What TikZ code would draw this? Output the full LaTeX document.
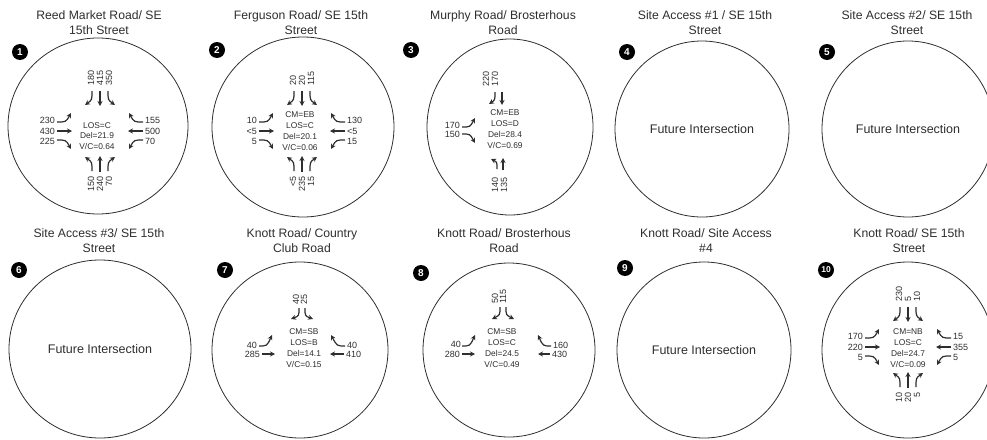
\documentclass[tikz,border=0pt]{standalone}
\usepackage{fontspec}
\setmainfont{Liberation Sans}
\usetikzlibrary{arrows.meta}
\definecolor{ink}{HTML}{2E2E2E}

% the twelve movement arrows of a four-leg intersection (drawn around the scope origin)
\newcommand\fourarrows{%
  \draw[mv] (-8,-40) .. controls (-8,-31) .. (-15,-26);
  \draw[mv] (0,-40) -- (0,-25);
  \draw[mv] (8,-40) .. controls (8,-31) .. (15,-26);
  \draw[mv] (-8,40) .. controls (-8,31) .. (-15,26);
  \draw[mv] (0,41) -- (0,25);
  \draw[mv] (8,40) .. controls (8,31) .. (15,26);
  \draw[mv] (-43,-9) .. controls (-34,-9) .. (-29,-18);
  \draw[mv] (-43,0) -- (-28,0);
  \draw[mv] (-43,9) .. controls (-34,9) .. (-29,18);
  \draw[mv] (43,-9) .. controls (34,-9) .. (29,-18);
  \draw[mv] (43,0) -- (28,0);
  \draw[mv] (43,9) .. controls (34,9) .. (29,18);
}

\begin{document}
\begin{tikzpicture}[x=1pt,y=-1pt,
  ring/.style={draw=ink,line width=0.8pt},
  badge/.style={circle,fill=black,text=white,inner sep=0pt,minimum size=16pt,
    font=\fontsize{10}{10}\selectfont\bfseries},
  ttl/.style={align=center,text=ink,inner sep=0pt,font=\fontsize{12.2}{15}\selectfont},
  future/.style={text=ink,inner sep=0pt,font=\fontsize{12.5}{14}\selectfont},
  info/.style={align=center,text=ink,inner sep=0pt,font=\fontsize{8.4}{10.8}\selectfont},
  vol/.style={text=ink,inner sep=0pt,font=\fontsize{9}{10}\selectfont},
  volr/.style={vol,rotate=90},
  mv/.style={draw=ink,line width=1.2pt,-{Stealth[length=5pt,width=5pt]}},
]
\useasboundingbox (0,0) rectangle (987,439);
\clip (0,0) rectangle (987,439);

% ---------- titles ----------
\node[ttl] (t1) at (99,23) {Reed Market Road/ SE\\15th Street};
\node[ttl] (t2) at (301,23) {Ferguson Road/ SE 15th\\Street};
\node[ttl] (t3) at (503,23) {Murphy Road/ Brosterhous\\Road};
\node[ttl] (t4) at (705,23) {Site Access \#1 / SE 15th\\Street};
\node[ttl] (t5) at (907,23) {Site Access \#2/ SE 15th\\Street};
\node[ttl] (t6) at (99,241) {Site Access \#3/ SE 15th\\Street};
\node[ttl] (t7) at (302,241) {Knott Road/ Country\\Club Road};
\node[ttl] (t8) at (504,241) {Knott Road/ Brosterhous\\Road};
\node[ttl] (t9) at (706,241) {Knott Road/ Site Access\\\#4};
\node[ttl] (t10) at (909,241) {Knott Road/ SE 15th\\Street};

% ---------- intersection rings ----------
\coordinate (c1) at (98,126);
\coordinate (c2) at (303,127);
\coordinate (c3) at (510,127);
\coordinate (c4) at (702,129);
\coordinate (c5) at (908,129);
\coordinate (c6) at (100,349);
\coordinate (c7) at (300,350);
\coordinate (c8) at (509,350);
\coordinate (c9) at (704,350);
\coordinate (c10) at (908,350);
\draw[ring] (c1) ellipse[x radius=90pt,y radius=88pt];
\draw[ring] (c2) ellipse[x radius=91pt,y radius=90pt];
\draw[ring] (c3) ellipse[x radius=83pt,y radius=88pt];
\draw[ring] (c4) ellipse[x radius=87pt,y radius=88pt];
\draw[ring] (c5) ellipse[x radius=86pt,y radius=88pt];
\draw[ring] (c6) ellipse[x radius=91pt,y radius=89pt];
\draw[ring] (c7) ellipse[x radius=88pt,y radius=88pt];
\draw[ring] (c8) ellipse[x radius=86pt,y radius=87pt];
\draw[ring] (c9) ellipse[x radius=87pt,y radius=88pt];
\draw[ring] (c10) ellipse[x radius=86pt,y radius=88pt];

% ---------- numbered badges ----------
\node[badge] (b1) at (20,52) {1};
\node[badge] (b2) at (217,50) {2};
\node[badge] (b3) at (411,50) {3};
\node[badge] (b4) at (627,52) {4};
\node[badge] (b5) at (827,52) {5};
\node[badge] (b6) at (19,270) {6};
\node[badge] (b7) at (225,270) {7};
\node[badge] (b8) at (421,273) {8};
\node[badge] (b9) at (625,268) {9};
\node[badge,font=\fontsize{8.5}{8.5}\selectfont\bfseries] (b10) at (826,270) {10};

% ---------- future intersections ----------
\node[future] (f4) at (c4) {Future Intersection};
\node[future] (f5) at (c5) {Future Intersection};
\node[future] (f6) at (c6) {Future Intersection};
\node[future] (f9) at (c9) {Future Intersection};

% ---------- 1: Reed Market Road / SE 15th Street ----------
\begin{scope}[shift={(100,131)}]
  \fourarrows
  \node[volr,anchor=west] (n1a) at (-9,-45) {180};
  \node[volr,anchor=west] (n1b) at (0,-45) {415};
  \node[volr,anchor=west] (n1c) at (9,-45) {350};
  \node[volr,anchor=east] (n1d) at (-9,45) {150};
  \node[volr,anchor=east] (n1e) at (0,45) {240};
  \node[volr,anchor=east] (n1f) at (9,45) {70};
  \node[vol,anchor=east] (n1g) at (-45,-10.5) {230};
  \node[vol,anchor=east] (n1h) at (-45,0) {430};
  \node[vol,anchor=east] (n1i) at (-45,10.5) {225};
  \node[vol,anchor=west] (n1j) at (45,-10.5) {155};
  \node[vol,anchor=west] (n1k) at (45,0) {500};
  \node[vol,anchor=west] (n1l) at (45,10.5) {70};
  \node[info] (i1) at (-3,5) {LOS=C\\Del=21.9\\V/C=0.64};
\end{scope}

% ---------- 2: Ferguson Road / SE 15th Street ----------
\begin{scope}[shift={(302,131)}]
  \fourarrows
  \node[volr,anchor=west] (n2a) at (-9,-45) {20};
  \node[volr,anchor=west] (n2b) at (0,-45) {20};
  \node[volr,anchor=west] (n2c) at (9,-45) {115};
  \node[volr,anchor=east] (n2d) at (-9,45) {<5};
  \node[volr,anchor=east] (n2e) at (0,45) {235};
  \node[volr,anchor=east] (n2f) at (9,45) {15};
  \node[vol,anchor=east] (n2g) at (-45,-10.5) {10};
  \node[vol,anchor=east] (n2h) at (-45,0) {<5};
  \node[vol,anchor=east] (n2i) at (-45,10.5) {5};
  \node[vol,anchor=west] (n2j) at (45,-10.5) {130};
  \node[vol,anchor=west] (n2k) at (45,0) {<5};
  \node[vol,anchor=west] (n2l) at (45,10.5) {15};
  \node[info] (i2) at (-2,0) {CM=EB\\LOS=C\\Del=20.1\\V/C=0.06};
\end{scope}

% ---------- 3: Murphy Road / Brosterhous Road ----------
\begin{scope}[shift={(505,132)}]
  \draw[mv] (-10,-40) .. controls (-10,-32) .. (-16,-28);
  \draw[mv] (-3,-40) -- (-3,-27);
  \draw[mv] (-8,37) .. controls (-8,30) .. (-14,27);
  \draw[mv] (-2,38) -- (-2,26);
  \draw[mv] (-43,-5) .. controls (-35,-5) .. (-30,-14);
  \draw[mv] (-43,2) .. controls (-35,2) .. (-30,11);
  \node[volr,anchor=west] (n3a) at (-19,-45) {220};
  \node[volr,anchor=west] (n3b) at (-10,-45) {170};
  \node[volr,anchor=east] (n3c) at (-10,45) {140};
  \node[volr,anchor=east] (n3d) at (-1,45) {135};
  \node[vol,anchor=east] (n3e) at (-45,-7) {170};
  \node[vol,anchor=east] (n3f) at (-45,2) {150};
  \node[info] (i3) at (0,-3) {CM=EB\\LOS=D\\Del=28.4\\V/C=0.69};
\end{scope}

% ---------- 7: Knott Road / Country Club Road ----------
\begin{scope}[shift={(303,350)}]
  \draw[mv] (-4,-42) .. controls (-4,-34) .. (-12,-31);
  \draw[mv] (2,-42) .. controls (2,-34) .. (10,-31);
  \draw[mv] (-44,-4) .. controls (-36,-4) .. (-31,-15);
  \draw[mv] (-41,4) -- (-28,4);
  \draw[mv] (42,-4) .. controls (34,-4) .. (28,-15);
  \draw[mv] (41,4) -- (27,4);
  \node[volr,anchor=west] (n7a) at (-7,-45) {40};
  \node[volr,anchor=west] (n7b) at (1,-45) {25};
  \node[vol,anchor=east] (n7c) at (-46,-5) {40};
  \node[vol,anchor=east] (n7d) at (-43,4) {285};
  \node[vol,anchor=west] (n7e) at (44,-5) {40};
  \node[vol,anchor=west] (n7f) at (43,4) {410};
  \node[info] (i7) at (1,-2) {CM=SB\\LOS=B\\Del=14.1\\V/C=0.15};
\end{scope}

% ---------- 8: Knott Road / Brosterhous Road ----------
\begin{scope}[shift={(505,350)}]
  \draw[mv] (-5,-43) .. controls (-5,-35) .. (-13,-31);
  \draw[mv] (1,-43) .. controls (1,-35) .. (9,-31);
  \draw[mv] (-43,-4) .. controls (-35,-4) .. (-30,-15);
  \draw[mv] (-43,4) -- (-30,4);
  \draw[mv] (46,-4) .. controls (38,-4) .. (33,-15);
  \draw[mv] (45,4) -- (33,4);
  \node[volr,anchor=west] (n8a) at (-10,-46) {50};
  \node[volr,anchor=west] (n8b) at (-2,-46) {115};
  \node[vol,anchor=east] (n8c) at (-44,-6) {40};
  \node[vol,anchor=east] (n8d) at (-45,4) {280};
  \node[vol,anchor=west] (n8e) at (48,-5) {160};
  \node[vol,anchor=west] (n8f) at (47,4) {430};
  \node[info] (i8) at (-3,-2) {CM=SB\\LOS=C\\Del=24.5\\V/C=0.49};
\end{scope}

% ---------- 10: Knott Road / SE 15th Street ----------
\begin{scope}[shift={(908,347)}]
  \fourarrows
  \node[volr,anchor=west] (n10a) at (-9,-45) {230};
  \node[volr,anchor=west] (n10b) at (0,-45) {5};
  \node[volr,anchor=west] (n10c) at (9,-45) {10};
  \node[volr,anchor=east] (n10d) at (-9,45) {10};
  \node[volr,anchor=east] (n10e) at (0,45) {20};
  \node[volr,anchor=east] (n10f) at (9,45) {5};
  \node[vol,anchor=east] (n10g) at (-45,-10.5) {170};
  \node[vol,anchor=east] (n10h) at (-45,0) {220};
  \node[vol,anchor=east] (n10i) at (-45,10.5) {5};
  \node[vol,anchor=west] (n10j) at (45,-10.5) {15};
  \node[vol,anchor=west] (n10k) at (45,0) {355};
  \node[vol,anchor=west] (n10l) at (45,10.5) {5};
  \node[info] (i10) at (0,1) {CM=NB\\LOS=C\\Del=24.7\\V/C=0.09};
\end{scope}
\end{tikzpicture}
\end{document}
